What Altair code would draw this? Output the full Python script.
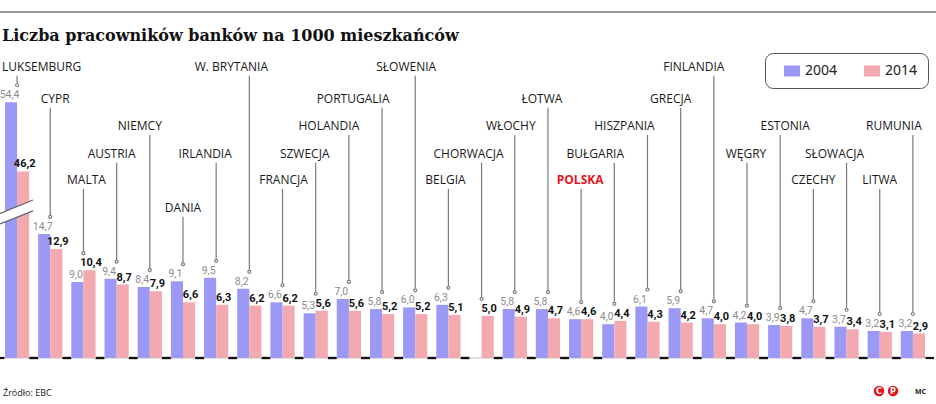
import altair as alt
import pandas as pd

# ---------------- data ----------------
COUNTRIES = ["LUKSEMBURG", "CYPR", "MALTA", "AUSTRIA", "NIEMCY", "DANIA", "IRLANDIA",
             "W. BRYTANIA", "FRANCJA", "SZWECJA", "HOLANDIA", "PORTUGALIA", "SŁOWENIA",
             "BELGIA", "CHORWACJA", "WŁOCHY", "ŁOTWA", "POLSKA", "BUŁGARIA", "HISZPANIA",
             "GRECJA", "FINLANDIA", "WĘGRY", "ESTONIA", "CZECHY", "SŁOWACJA", "LITWA", "RUMUNIA"]
V2004 = [54.4, 14.7, 9.0, 9.4, 8.4, 9.1, 9.5, 8.2, 6.6, 5.3, 7.0, 5.8, 6.0, 6.3, None,
         5.8, 5.8, 4.6, 4.0, 6.1, 5.9, 4.7, 4.2, 3.9, 4.7, 3.7, 3.2, 3.2]
V2014 = [46.2, 12.9, 10.4, 8.7, 7.9, 6.6, 6.3, 6.2, 6.2, 5.6, 5.6, 5.2, 5.2, 5.1, 5.0,
         4.9, 4.7, 4.6, 4.4, 4.3, 4.2, 4.0, 4.0, 3.8, 3.7, 3.4, 3.1, 2.9]
YEARS = ["2004", "2014"]
# staggered row of each country's name (0 = highest)
LABEL_LEVEL = [0, 1, 4, 3, 2, 5, 3, 0, 4, 3, 2, 1, 0, 4, 3, 2, 1, 4, 3, 2, 1, 0, 3, 2, 4, 3, 4, 2]
HIGHLIGHT = "POLSKA"
AXIS_BREAK = {"LUKSEMBURG": 24.1}   # amount removed by the broken axis

# ---------------- layout / style constants ----------------
ROW_Y = [34.5, 30.7, 27.5, 24.2, 21.1, 17.8]
LABEL_DX = [-15, 5, 3, -5, -10, 0, -11, -18, 1, -11, -20, -29, -9, -3, -13, -4, -6, -1,
            -19, -23, -10, -20, -1, 5, 0, -12, 0, -19]
BLUE = "#9c98f6"
PINK = "#f2aab0"
NUM_FONT = "Roboto"
W, H = 930, 308
YMAX = 36.49

rows = []
for i, c in enumerate(COUNTRIES):
    for yr, v in zip(YEARS, (V2004[i], V2014[i])):
        if v is None:
            continue
        rows.append({"country": c, "year": yr, "value": v,
                     "disp": v - AXIS_BREAK.get(c, 0.0),
                     "label": f"{v:.1f}".replace(".", ",")})
long = pd.DataFrame(rows)

tops = long.groupby("country")["disp"].max()
cdf = pd.DataFrame({"country": COUNTRIES,
                    "row_y": [ROW_Y[l] for l in LABEL_LEVEL],
                    "top": [tops[c] for c in COUNTRIES],
                    "zero": [0.0] * len(COUNTRIES),
                    "dx": LABEL_DX})

xscale = alt.Scale(domain=COUNTRIES, paddingInner=0.27, paddingOuter=0.15)
yscale = alt.Scale(domain=[0, YMAX], nice=False, zero=True)
X = alt.X("country:N", scale=xscale, axis=None, title=None)
XOFF = alt.XOffset("year:N", scale=alt.Scale(domain=YEARS, paddingInner=0, paddingOuter=0))


def Y(field):
    return alt.Y(field, scale=yscale, axis=None, title=None)


one = pd.DataFrame({"a": [0.0]})
layers = []

# baseline
layers.append(alt.Chart(one).mark_rule(color="#c4c4c4", strokeWidth=1).encode(y=Y("a:Q")))
# dark dashes in the gaps between groups
for off in ((-21.0, -12.6), (12.6, 21.0)):
    layers.append(alt.Chart(cdf).mark_rule(color="#111", strokeWidth=2.2,
                                           xOffset=off[0], x2Offset=off[1])
                  .encode(x=X, x2=alt.X2("country:N"), y=Y("zero:Q")))

# bars
layers.append(alt.Chart(long).mark_bar().encode(
    x=X, xOffset=XOFF, y=Y("disp:Q"),
    color=alt.Color("year:N", scale=alt.Scale(domain=YEARS, range=[BLUE, PINK]),
                    legend=alt.Legend(
                        title=None, orient="none", legendX=765, legendY=3,
                        direction="horizontal",
                        symbolType="M-1,-0.69L1,-0.69L1,0.69L-1,0.69Z",
                        symbolSize=256, symbolStrokeWidth=0, symbolOffset=9,
                        labelFont="Noto Sans", labelFontSize=14, labelColor="#222",
                        labelOffset=5, columnPadding=17, padding=10,
                        strokeColor="#555", fillColor="white", cornerRadius=8)),
))

# axis-break marks across the Luxembourg bars
brk_white = pd.DataFrame({"y1": [16.5], "y2": [18.07]})
layers.append(alt.Chart(brk_white).mark_rule(color="white", strokeWidth=9.7, strokeCap="butt").encode(
    x=alt.value(0), x2=alt.value(33), y=Y("y1:Q"), y2="y2:Q"))
brk_lines = pd.DataFrame({"y1": [17.13, 15.88], "y2": [18.72, 17.42], "k": ["a", "b"]})
layers.append(alt.Chart(brk_lines).mark_rule(color="#666", strokeWidth=1.3).encode(
    x=alt.value(0), x2=alt.value(33), y=Y("y1:Q"), y2="y2:Q", detail="k:N"))

# value labels
layers.append(alt.Chart(long).transform_filter("datum.year == '2004'")
              .mark_text(font=NUM_FONT, fontSize=10.5, color="#8c8c8c", baseline="bottom",
                         dy=-2, dx=-1.5)
              .encode(x=X, xOffset=XOFF, y=Y("disp:Q"), text="label:N"))
layers.append(alt.Chart(long).transform_filter("datum.year == '2014'")
              .mark_text(font=NUM_FONT, fontSize=11, fontWeight="bold", color="#111",
                         baseline="bottom", dy=-2, dx=1.5)
              .encode(x=X, xOffset=XOFF, y=Y("disp:Q"), text="label:N"))

# leader lines and dots
layers.append(alt.Chart(cdf).mark_rule(color="#7a7a7a", strokeWidth=1.2, yOffset=9, y2Offset=-19)
              .encode(x=X, y=Y("row_y:Q"), y2="top:Q"))
layers.append(alt.Chart(cdf).mark_point(size=9, color="#7a7a7a", filled=False, strokeWidth=1.2,
                                        opacity=1, yOffset=-17)
              .encode(x=X, y=Y("top:Q")))

# country names
first = COUNTRIES[0]
layers.append(alt.Chart(cdf).transform_filter(f"datum.country == '{first}'")
              .mark_text(font="Open Sans", fontSize=12, color="#1a1a1a", align="left",
                         baseline="middle", dx=LABEL_DX[0])
              .encode(x=X, y=Y("row_y:Q"), text="country:N"))
for d in sorted(set(LABEL_DX[1:])):
    layers.append(alt.Chart(cdf)
                  .transform_filter(f"datum.dx == {d} && datum.country != '{first}' && datum.country != '{HIGHLIGHT}'")
                  .mark_text(font="Open Sans", fontSize=12, color="#1a1a1a", baseline="middle", dx=d)
                  .encode(x=X, y=Y("row_y:Q"), text="country:N"))
hi_dx = LABEL_DX[COUNTRIES.index(HIGHLIGHT)]
layers.append(alt.Chart(cdf).transform_filter(f"datum.country == '{HIGHLIGHT}'")
              .mark_text(font="Open Sans", fontSize=12, fontWeight="bold", color="#e3161d",
                         baseline="middle", dx=hi_dx)
              .encode(x=X, y=Y("row_y:Q"), text="country:N"))

# title, top rule, footer
layers.append(alt.Chart(one).mark_rule(color="#999", strokeWidth=2)
              .encode(x=alt.value(0), x2=alt.value(936), y=alt.value(-38)))
layers.append(alt.Chart(one).mark_text(font="DejaVu Serif", fontSize=16, fontWeight="bold",
                                       color="#111", align="left", baseline="alphabetic")
              .encode(x=alt.value(2), y=alt.value(-9),
                      text=alt.value("Liczba pracowników banków na 1000 mieszkańców")))
layers.append(alt.Chart(one).mark_text(font="Open Sans", fontSize=9, color="#222",
                                       align="left", baseline="middle")
              .encode(x=alt.value(3), y=alt.value(343), text=alt.value("Źródło: EBC")))
for px, t in ((879, "C"), (893, "P")):
    layers.append(alt.Chart(one).mark_circle(size=110, color="#e3161d", opacity=1)
                  .encode(x=alt.value(px), y=alt.value(341)))
    layers.append(alt.Chart(one).mark_text(font="DejaVu Sans", fontSize=8, fontWeight="bold",
                                           color="white", baseline="middle")
                  .encode(x=alt.value(px), y=alt.value(341.5), text=alt.value(t)))
layers.append(alt.Chart(one).mark_text(font="Open Sans", fontSize=7, fontWeight="bold",
                                       color="#222", align="left", baseline="middle")
              .encode(x=alt.value(915), y=alt.value(342), text=alt.value("MC")))

chart = alt.layer(*layers).properties(
    width=W, height=H,
    autosize=alt.AutoSizeParams(type="none"),
    padding={"left": 0, "top": 50, "right": 6, "bottom": 46},
).configure_view(stroke=None)

chart.save("out.html", embed_options={"renderer": "svg", "actions": False})
